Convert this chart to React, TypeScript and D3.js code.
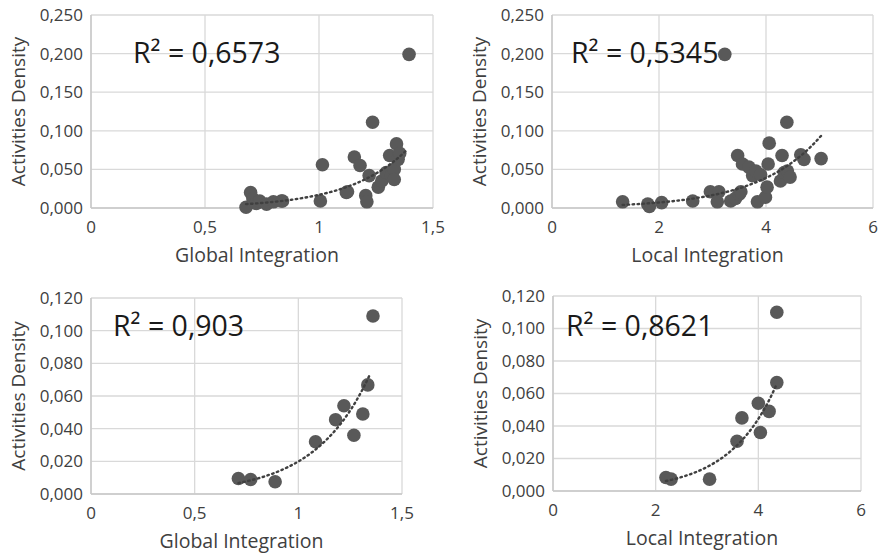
import React from "react";
import * as d3 from "d3";

// Global integration vs activities density (top left)
const globalX1 = [0.68, 0.70, 0.71, 0.725, 0.74, 0.77, 0.80, 0.835, 0.84, 1.006, 1.015, 1.12, 1.125, 1.155, 1.18, 1.205, 1.21, 1.22, 1.235, 1.26, 1.275, 1.295, 1.31, 1.318, 1.33, 1.34, 1.347, 1.354, 1.33, 1.395];
const density1 = [0.001, 0.020, 0.012, 0.006, 0.009, 0.005, 0.008, 0.009, 0.009, 0.009, 0.056, 0.020, 0.021, 0.066, 0.055, 0.016, 0.008, 0.042, 0.111, 0.027, 0.035, 0.046, 0.068, 0.042, 0.050, 0.083, 0.063, 0.071, 0.037, 0.199];

// Local integration vs activities density (top right)
const localX2 = [1.32, 1.79, 1.82, 2.05, 2.63, 2.96, 3.12, 3.09, 3.23, 3.34, 3.43, 3.47, 3.50, 3.53, 3.56, 3.68, 3.75, 3.81, 3.84, 3.90, 3.99, 4.02, 4.04, 4.06, 4.27, 4.30, 4.34, 4.40, 4.45, 4.39, 4.65, 4.71, 5.03];
const density2 = [0.008, 0.005, 0.002, 0.007, 0.009, 0.021, 0.021, 0.008, 0.199, 0.009, 0.0125, 0.068, 0.018, 0.021, 0.057, 0.053, 0.042, 0.048, 0.008, 0.043, 0.014, 0.027, 0.057, 0.084, 0.035, 0.068, 0.046, 0.048, 0.040, 0.111, 0.069, 0.063, 0.064];

// bottom row
const globalX3 = [0.711, 0.770, 0.888, 1.083, 1.18, 1.22, 1.268, 1.311, 1.335, 1.36];
const density3 = [0.0095, 0.0089, 0.0075, 0.032, 0.0455, 0.054, 0.036, 0.049, 0.0668, 0.109];
const localX4 = [2.20, 2.30, 3.05, 3.585, 3.68, 4.00, 4.04, 4.21, 4.36, 4.36];
const density4 = [0.0083, 0.0073, 0.0073, 0.0306, 0.045, 0.054, 0.036, 0.049, 0.0667, 0.110];

// exponential trendline y = a*e^(b*x)
const trendA = [0.000363, 0.0013, 0.000459, 0.000545];
const trendB = [3.85, 0.85, 3.77, 1.10];
const trendEnd = [1.38, 5.05, 1.348, 4.34];
const rSquared = ["0,6573", "0,5345", "0,903", "0,8621"];

const xTicksGlobal = [0, 0.5, 1, 1.5];
const xTicksLocal = [0, 2, 4, 6];
const yTicksTop = [0, 0.05, 0.1, 0.15, 0.2, 0.25];
const yTicksBottom = [0, 0.02, 0.04, 0.06, 0.08, 0.1, 0.12];

const FONT = "'Open Sans', 'Liberation Sans', sans-serif";
const TEXT = "#404040";
const GRID = "#d9d9d9";
const DOT = "#595959";

const fmtY = (v: number) => d3.format(".3f")(v).replace(".", ",");
const fmtX = (v: number) => String(v).replace(".", ",");

type PanelProps = {
  xs: number[];
  ys: number[];
  xTicks: number[];
  yTicks: number[];
  left: number;
  right: number;
  top: number;
  bottom: number;
  xTitle: string;
  idx: number;
  r2x: number;
  r2y: number;
};

function Panel({ xs, ys, xTicks, yTicks, left, right, top, bottom, xTitle, idx, r2x, r2y }: PanelProps) {
  const x = d3.scaleLinear().domain(d3.extent(xTicks) as [number, number]).range([left, right]);
  const y = d3.scaleLinear().domain(d3.extent(yTicks) as [number, number]).range([bottom, top]);
  const pts = xs.map((v, i) => ({ x: v, y: ys[i] }));

  const x0 = d3.min(xs) as number;
  const x1 = trendEnd[idx];
  const a = trendA[idx];
  const b = trendB[idx];
  const trendPts = d3.range(0, 61).map((k) => x0 + ((x1 - x0) * k) / 60);
  const line = d3
    .line<number>()
    .x((v) => x(v))
    .y((v) => y(a * Math.exp(b * v)));

  return (
    <g>
      {xTicks.map((t) => (
        <line key={"gx" + t} x1={x(t)} x2={x(t)} y1={top} y2={bottom} stroke={GRID} strokeWidth={1.3} />
      ))}
      {yTicks.map((t) => (
        <line key={"gy" + t} x1={left} x2={right} y1={y(t)} y2={y(t)} stroke={GRID} strokeWidth={1.3} />
      ))}
      <line x1={left} x2={right} y1={bottom} y2={bottom} stroke="#c8c8c8" strokeWidth={1.5} />
      <line x1={left} x2={left} y1={top} y2={bottom} stroke="#c8c8c8" strokeWidth={1.5} />
      {yTicks.map((t) => (
        <text key={"ty" + t} x={left - 8} y={y(t)} dy="0.35em" textAnchor="end" fontSize={17} fill={TEXT} fontFamily={FONT}>
          {fmtY(t)}
        </text>
      ))}
      {xTicks.map((t) => (
        <text key={"tx" + t} x={x(t)} y={bottom + 19} dy="0.35em" textAnchor="middle" fontSize={17} fill={TEXT} fontFamily={FONT}>
          {fmtX(t)}
        </text>
      ))}
      <text
        transform={`translate(${left - 73},${(top + bottom) / 2}) rotate(-90)`}
        textAnchor="middle"
        dy="0.35em"
        fontSize={19}
        fill={TEXT}
        fontFamily={FONT}
      >
        Activities Density
      </text>
      <text x={(left + right) / 2 - 5} y={bottom + 47} dy="0.35em" textAnchor="middle" fontSize={19.5} fill={TEXT} fontFamily={FONT}>
        {xTitle}
      </text>
      {pts.map((p, i) => (
        <circle key={i} cx={x(p.x)} cy={y(p.y)} r={6.8} fill={DOT} />
      ))}
      <path d={line(trendPts) || ""} fill="none" stroke="#404040" strokeWidth={2.4} strokeDasharray="1.5,3.5" strokeLinecap="round" />
      <text x={r2x} y={r2y} fontSize={28.5} fill="#1a1a1a" fontFamily={FONT}>
        R² = {rSquared[idx]}
      </text>
    </g>
  );
}

export default function App() {
  return (
    <svg width={878} height={556} style={{ position: "absolute", left: 0, top: 0, background: "#fff" }}>
      <Panel xs={globalX1} ys={density1} xTicks={xTicksGlobal} yTicks={yTicksTop} left={91} right={433} top={15} bottom={208} xTitle="Global Integration" idx={0} r2x={133} r2y={63} />
      <Panel xs={localX2} ys={density2} xTicks={xTicksLocal} yTicks={yTicksTop} left={552} right={873} top={15} bottom={208} xTitle="Local Integration" idx={1} r2x={571} r2y={63} />
      <Panel xs={globalX3} ys={density3} xTicks={xTicksGlobal} yTicks={yTicksBottom} left={91} right={402} top={298} bottom={494} xTitle="Global Integration" idx={2} r2x={113} r2y={336} />
      <Panel xs={localX4} ys={density4} xTicks={xTicksLocal} yTicks={yTicksBottom} left={553} right={861} top={296} bottom={491} xTitle="Local Integration" idx={3} r2x={566} r2y={336} />
    </svg>
  );
}
